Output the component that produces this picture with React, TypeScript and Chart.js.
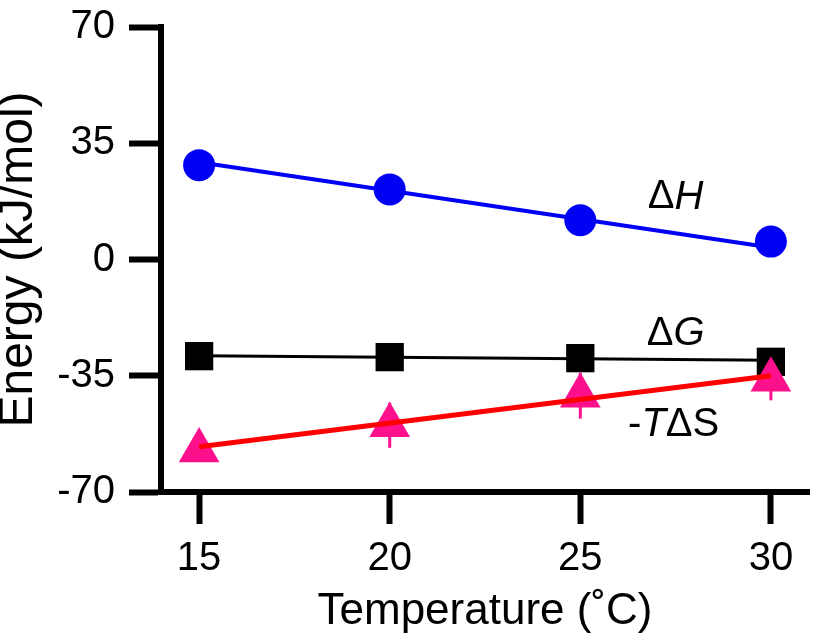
import React, { useEffect, useRef } from 'react';
import { Chart, registerables } from 'chart.js';

Chart.register(...registerables);

// ---- data ----
const temps = [15, 20, 25, 30];
const deltaH = [28.4, 21.1, 11.8, 5.4];
const deltaG = [-29.1, -29.4, -29.7, -30.8];
const minusTdS = [-57.5, -49.9, -41.0, -36.2];
const minusTdSErr = [3.0, 6.8, 6.9, 6.2];
const fitX = [15, 30];
const fitH = [29.3, 3.6];
const fitG = [-29.0, -30.3];
const fitS = [-56.4, -35.0];
const xTickValues = [15, 20, 25, 30];
const yTickValues = [-70, -35, 0, 35, 70];
const labelPositions = [
  { x: 27.5, y: 18.7, parts: [{ t: 'Δ', i: false }, { t: 'H', i: true }] },
  { x: 27.5, y: -22.3, parts: [{ t: 'Δ', i: false }, { t: 'G', i: true }] },
  { x: 27.45, y: -49.8, parts: [{ t: '-', i: false }, { t: 'T', i: true }, { t: 'Δ', i: false }, { t: 'S', i: false }] },
];

const FONT = '"Liberation Sans", Arial, Helvetica, sans-serif';
const BLUE = '#0000f5';
const PINK = '#fc108c';
const RED = '#ff0000';

const toXY = (xs: number[], ys: number[]) => xs.map((x, i) => ({ x, y: ys[i] }));

const errorBarPlugin = {
  id: 'errorBars',
  beforeDatasetsDraw(chart: any) {
    const { ctx, scales } = chart;
    const x = scales.x;
    const y = scales.y;
    ctx.save();
    ctx.strokeStyle = PINK;
    ctx.lineWidth = 3;
    temps.forEach((t, i) => {
      const px = x.getPixelForValue(t);
      ctx.beginPath();
      ctx.moveTo(px, y.getPixelForValue(minusTdS[i] - minusTdSErr[i]));
      ctx.lineTo(px, y.getPixelForValue(minusTdS[i] + minusTdSErr[i]));
      ctx.stroke();
    });
    ctx.restore();
  },
};

const labelPlugin = {
  id: 'seriesLabels',
  afterDatasetsDraw(chart: any) {
    const { ctx, scales } = chart;
    const x = scales.x;
    const y = scales.y;
    ctx.save();
    ctx.fillStyle = '#000';
    ctx.textBaseline = 'middle';
    ctx.textAlign = 'left';
    labelPositions.forEach((lab) => {
      const fontFor = (it: boolean) => `${it ? 'italic ' : ''}40px ${FONT}`;
      let total = 0;
      lab.parts.forEach((p) => {
        ctx.font = fontFor(p.i);
        total += ctx.measureText(p.t).width;
      });
      let cx = x.getPixelForValue(lab.x) - total / 2;
      const cy = y.getPixelForValue(lab.y);
      lab.parts.forEach((p) => {
        ctx.font = fontFor(p.i);
        ctx.fillText(p.t, cx, cy);
        cx += ctx.measureText(p.t).width;
      });
    });
    ctx.restore();
  },
};

export default function App() {
  const ref = useRef<HTMLCanvasElement | null>(null);

  useEffect(() => {
    document.body.style.margin = '0';
    const canvas = ref.current;
    if (!canvas) return;
    const chart = new Chart(canvas, {
      type: 'line',
      data: {
        datasets: [
          {
            label: '-TΔS fit',
            data: toXY(fitX, fitS),
            borderColor: RED,
            borderWidth: 5,
            pointRadius: 0,
            fill: false,
            order: 0,
          },
          {
            label: '-TΔS',
            data: toXY(temps, minusTdS),
            showLine: false,
            pointStyle: 'triangle',
            pointRadius: 23.5,
            pointBackgroundColor: PINK,
            pointBorderColor: PINK,
            pointBorderWidth: 0,
            order: 1,
          },
          {
            label: 'ΔG',
            data: toXY(temps, deltaG),
            showLine: false,
            pointStyle: 'rect',
            pointRadius: 20,
            pointBackgroundColor: '#000',
            pointBorderColor: '#000',
            pointBorderWidth: 0,
            order: 2,
          },
          {
            label: 'ΔG fit',
            data: toXY(fitX, fitG),
            borderColor: '#000',
            borderWidth: 3,
            pointRadius: 0,
            fill: false,
            order: 3,
          },
          {
            label: 'ΔH',
            data: toXY(temps, deltaH),
            showLine: false,
            pointStyle: 'circle',
            pointRadius: 16,
            pointBackgroundColor: BLUE,
            pointBorderColor: BLUE,
            pointBorderWidth: 0,
            order: 4,
          },
          {
            label: 'ΔH fit',
            data: toXY(fitX, fitH),
            borderColor: BLUE,
            borderWidth: 4,
            pointRadius: 0,
            fill: false,
            order: 5,
          },
        ],
      },
      options: {
        animation: false,
        responsive: false,
        devicePixelRatio: 1,
        layout: { padding: { left: 0, right: 5, top: 27, bottom: 0 }, autoPadding: false },
        plugins: { legend: { display: false }, tooltip: { enabled: false } },
        elements: { line: { tension: 0 } },
        scales: {
          x: {
            type: 'linear',
            min: 14,
            max: 31,
            afterBuildTicks: (s: any) => {
              s.ticks = xTickValues.map((v) => ({ value: v }));
            },
            afterFit: (s: any) => {
              s.height = 142;
              s.paddingLeft = 0;
              s.paddingRight = 0;
            },
            grid: { drawOnChartArea: false, drawTicks: true, tickLength: 32, tickWidth: 6, color: '#000' },
            border: { display: true, color: '#000', width: 6 },
            ticks: { color: '#000', padding: 11, font: { family: FONT, size: 40 }, maxRotation: 0 },
            title: {
              display: true,
              text: 'Temperature (˚C)',
              color: '#000',
              font: { family: FONT, size: 44 },
              padding: { top: 0, bottom: -4 },
              align: 'center',
            },
          },
          y: {
            type: 'linear',
            min: -70,
            max: 70,
            afterBuildTicks: (s: any) => {
              s.ticks = yTickValues.map((v) => ({ value: v }));
            },
            afterFit: (s: any) => {
              s.width = 161;
              s.paddingTop = 0;
              s.paddingBottom = 0;
            },
            grid: { drawOnChartArea: false, drawTicks: true, tickLength: 32, tickWidth: 6, color: '#000' },
            border: { display: true, color: '#000', width: 6 },
            ticks: { color: '#000', padding: 14, font: { family: FONT, size: 40 } },
            title: {
              display: true,
              text: 'Energy (kJ/mol)',
              color: '#000',
              font: { family: FONT, size: 48, lineHeight: 1 },
              padding: { top: -5, bottom: 0 },
            },
          },
        },
      },
      plugins: [errorBarPlugin, labelPlugin],
    } as any);
    return () => chart.destroy();
  }, []);

  return (
    <div style={{ position: 'absolute', left: 0, top: 0, width: 814, height: 634, background: '#fff' }}>
      <canvas ref={ref} width={814} height={634} style={{ display: 'block' }} />
    </div>
  );
}
